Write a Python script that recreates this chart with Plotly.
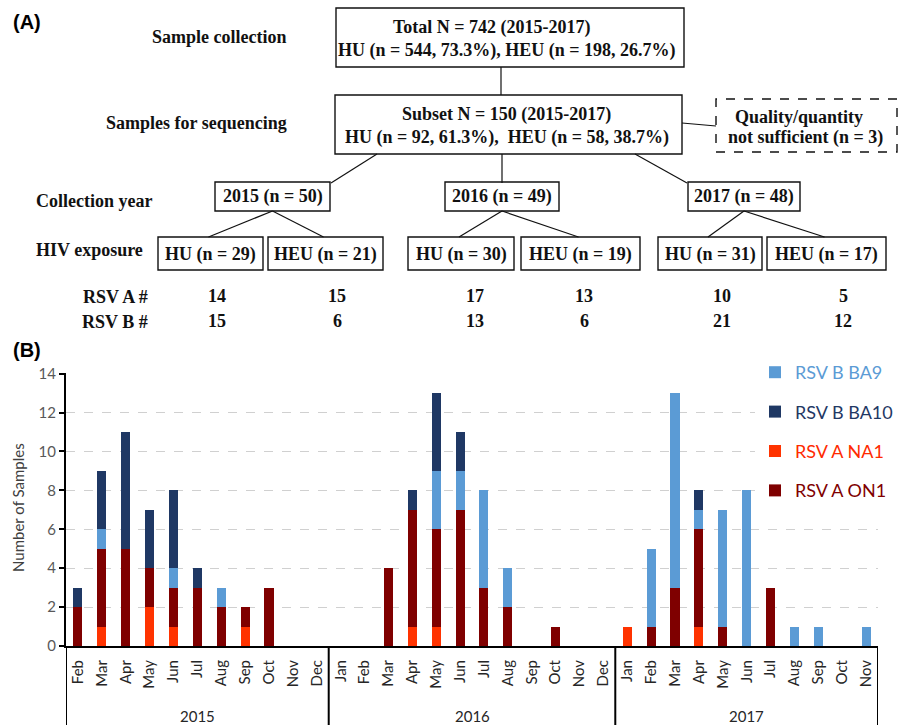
import plotly.graph_objects as go

W, H = 904, 725


def X(p):
    return p / W


def Y(p):
    return 1 - p / H


# ---------------- data ----------------
months_2015 = ["Feb", "Mar", "Apr", "May", "Jun", "Jul", "Aug", "Sep", "Oct", "Nov", "Dec"]
months_2016 = ["Jan", "Feb", "Mar", "Apr", "May", "Jun", "Jul", "Aug", "Sep", "Oct", "Nov", "Dec"]
months_2017 = ["Jan", "Feb", "Mar", "Apr", "May", "Jun", "Jul", "Aug", "Sep", "Oct", "Nov"]
year_names = ["2015", "2016", "2017"]

rsv_a_na1 = [0, 1, 0, 2, 1, 0, 0, 1, 0, 0, 0,
             0, 0, 0, 1, 1, 0, 0, 0, 0, 0, 0, 0,
             1, 0, 0, 1, 0, 0, 0, 0, 0, 0, 0]
rsv_a_on1 = [2, 4, 5, 2, 2, 3, 2, 1, 3, 0, 0,
             0, 0, 4, 6, 5, 7, 3, 2, 0, 1, 0, 0,
             0, 1, 3, 5, 1, 0, 3, 0, 0, 0, 0]
rsv_b_ba9 = [0, 1, 0, 0, 1, 0, 1, 0, 0, 0, 0,
             0, 0, 0, 0, 3, 2, 5, 2, 0, 0, 0, 0,
             0, 4, 10, 1, 6, 8, 0, 1, 1, 0, 1]
rsv_b_ba10 = [1, 3, 6, 3, 4, 1, 0, 0, 0, 0, 0,
              0, 0, 0, 1, 4, 2, 0, 0, 0, 0, 0, 0,
              0, 0, 0, 1, 0, 0, 0, 0, 0, 0, 0]

y_ticks = [0, 2, 4, 6, 8, 10, 12, 14]

# flowchart numbers
hu_counts = [29, 30, 31]
heu_counts = [21, 19, 17]
year_counts = [50, 49, 48]
rsv_a_hu = [14, 17, 10]
rsv_a_heu = [15, 13, 5]
rsv_b_hu = [15, 13, 21]
rsv_b_heu = [6, 6, 12]

# ---------------- bars ----------------
month_groups = [months_2015, months_2016, months_2017]
month_labels = months_2015 + months_2016 + months_2017
positions = list(range(len(month_labels)))

series = [
    ("RSV A NA1", rsv_a_na1, "#ff3300", "#ff2a00", 3),
    ("RSV A ON1", rsv_a_on1, "#7f0000", "#7f0000", 4),
    ("RSV B BA9", rsv_b_ba9, "#5b9bd5", "#5b9bd5", 1),
    ("RSV B BA10", rsv_b_ba10, "#1f3864", "#1f3864", 2),
]

fig = go.Figure()
for name, vals, col, tcol, rank in series:
    fig.add_trace(go.Bar(
        x=positions, y=vals,
        name=f"<span style='color:{tcol}'>{name}</span>",
        marker=dict(color=col, line=dict(width=0)),
        legendrank=rank, legendgroup=name,
    ))

fig.update_layout(
    width=W, height=H,
    margin=dict(l=0, r=0, t=0, b=0),
    paper_bgcolor="white", plot_bgcolor="white",
    barmode="stack", bargap=0.62,
    font=dict(family="Lato", color="#404040"),
    showlegend=True,
    legend=dict(
        x=X(755), y=Y(354), xanchor="left", yanchor="top",
        bgcolor="white", font=dict(size=18, family="Lato"),
        tracegroupgap=13, itemwidth=30,
    ),
    xaxis=dict(
        domain=[X(66), X(878)],
        range=[-0.5, len(month_labels) - 0.5],
        tickvals=positions, ticktext=month_labels,
        showline=True, linecolor="black", linewidth=2,
        tickangle=-90, tickfont=dict(size=15, color="#262626", family="Lato"),
        ticks="outside", ticklen=6, tickcolor="rgba(0,0,0,0)",
        showgrid=False, zeroline=False, automargin=False,
    ),
    yaxis=dict(
        domain=[Y(646), Y(373)],
        range=[0, 14.03], tickvals=y_ticks,
        showline=True, linecolor="black", linewidth=2,
        ticks="outside", ticklen=5, tickcolor="black", tickwidth=2,
        tickfont=dict(size=15, color="#595959", family="Lato"),
        showgrid=True, gridcolor="#d0d0d0", griddash="dash", gridwidth=1,
        zeroline=False, automargin=False,
    ),
)

# year group dividers and labels
start = 0
bounds = [-0.5]
for gi, grp in enumerate(month_groups):
    end = start + len(grp)
    bounds.append(end - 0.5)
    fig.add_annotation(x=(start + end - 1) / 2, y=Y(716), xref="x", yref="paper",
                       xanchor="center", yanchor="middle", text=year_names[gi],
                       showarrow=False, font=dict(size=15, family="Lato", color="#262626"))
    start = end
for b in bounds:
    fig.add_shape(type="line", xref="x", yref="paper", x0=b, x1=b, y0=Y(646), y1=Y(730),
                  line=dict(color="black", width=2))

fig.add_annotation(x=X(18), y=Y(508), xref="paper", yref="paper",
                   xanchor="center", yanchor="middle",
                   text="Number of Samples", textangle=-90, showarrow=False,
                   font=dict(size=15, family="Lato", color="#404040"))

# ---------------- panel labels ----------------
for lab, cy in [("(A)", 22), ("(B)", 350)]:
    fig.add_annotation(x=X(11), y=Y(cy), xref="paper", yref="paper",
                       xanchor="left", yanchor="middle",
                       text=f"<b>{lab}</b>", showarrow=False,
                       font=dict(size=20, family="Liberation Sans", color="black"))

# ---------------- flowchart ----------------
SERIF = "Liberation Serif"


def txt(cx, cy, s, size=18, anchor="center"):
    fig.add_annotation(x=X(cx), y=Y(cy), xref="paper", yref="paper",
                       xanchor=anchor, yanchor="middle",
                       text=f"<b>{s}</b>", showarrow=False,
                       font=dict(size=size, family=SERIF, color="#111111"))


def box(x0, y0, x1, y1, dash="solid"):
    fig.add_shape(type="rect", xref="paper", yref="paper",
                  x0=X(x0), x1=X(x1), y0=Y(y1), y1=Y(y0),
                  line=dict(color="#111111", width=1.4, dash=dash), fillcolor="rgba(0,0,0,0)")


def line(x0, y0, x1, y1):
    fig.add_shape(type="line", xref="paper", yref="paper",
                  x0=X(x0), x1=X(x1), y0=Y(y0), y1=Y(y1),
                  line=dict(color="#111111", width=1.2))


# row labels
txt(219, 37, "Sample collection")
txt(196, 123, "Samples for sequencing")
txt(94, 201, "Collection year")
txt(89, 250, "HIV exposure")
txt(150, 297, "RSV A #", anchor="right")
txt(150, 322, "RSV B #", anchor="right")

# top boxes
box(336, 8, 684, 67)
txt(492, 28, "Total N = 742 (2015-2017)")
txt(507, 50, "HU (n = 544, 73.3%), HEU (n = 198, 26.7%)")
line(501, 67, 501, 95)

box(335, 95, 682, 154)
txt(506, 115, "Subset N = 150 (2015-2017)")
txt(507, 137, "HU (n = 92, 61.3%),  HEU (n = 58, 38.7%)")

box(716, 99, 897, 152, dash="dash")
txt(799, 117, "Quality/quantity")
txt(805, 137, "not sufficient (n = 3)")
line(682, 123, 716, 126)

# year boxes
year_boxes = [(215, 330), (445, 559), (688, 800)]
hu_boxes = [(158, 263), (408, 514), (658, 762)]
heu_boxes = [(268, 383), (521, 640), (767, 886)]
sub_starts = [377, 502, 635]
year_tops = [(331, 183), (502, 183), (687, 183)]
num_x_hu = [217, 475, 722]
num_x_heu = [337, 584, 843]

for i in range(3):
    bx0, bx1 = year_boxes[i]
    box(bx0, 182, bx1, 211)
    txt((bx0 + bx1) / 2, 197, f"{year_names[i]} (n = {year_counts[i]})")
    line(sub_starts[i], 154, year_tops[i][0], year_tops[i][1])
    cx = (bx0 + bx1) / 2
    h0, h1 = hu_boxes[i]
    e0, e1 = heu_boxes[i]
    box(h0, 237, h1, 270)
    box(e0, 237, e1, 270)
    txt((h0 + h1) / 2, 254, f"HU (n = {hu_counts[i]})")
    txt((e0 + e1) / 2, 254, f"HEU (n = {heu_counts[i]})")
    line(cx, 211, (h0 + h1) / 2 - 2, 237)
    line(cx, 211, (e0 + e1) / 2 - 2, 237)
    txt(num_x_hu[i], 296, str(rsv_a_hu[i]))
    txt(num_x_heu[i], 296, str(rsv_a_heu[i]))
    txt(num_x_hu[i], 321, str(rsv_b_hu[i]))
    txt(num_x_heu[i], 321, str(rsv_b_heu[i]))

fig.write_html("out.html", config={"displayModeBar": False},
               post_script="document.body.style.margin='0';document.body.style.overflow='hidden';")
